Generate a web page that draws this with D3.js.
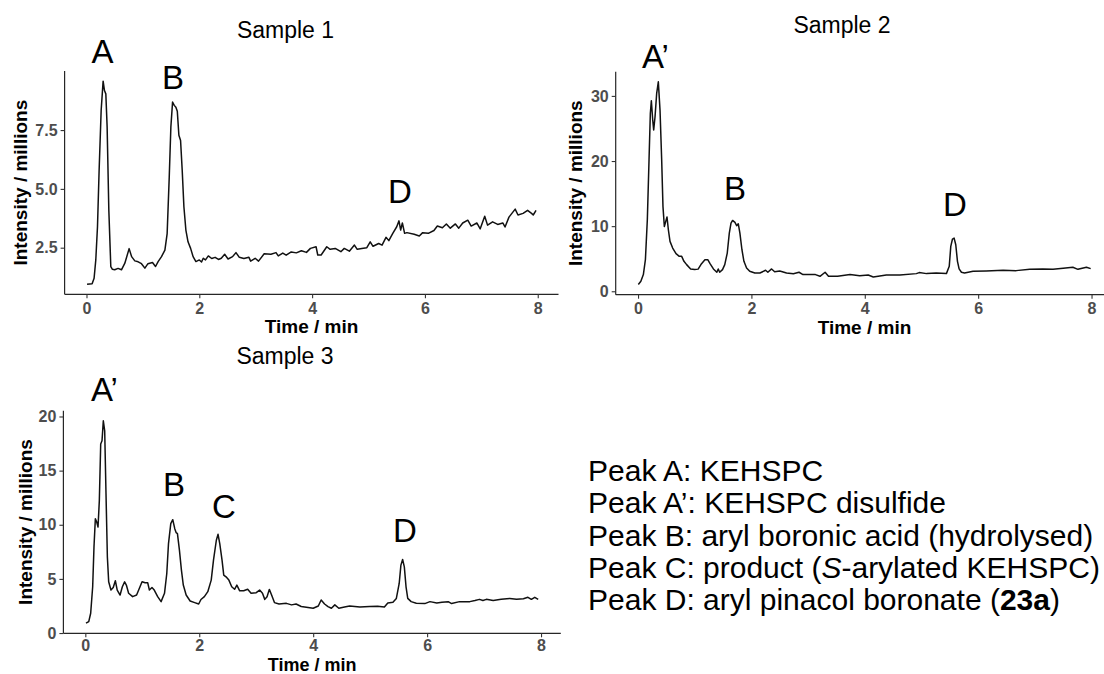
<!DOCTYPE html>
<html>
<head>
<meta charset="utf-8">
<script src="https://cdn.jsdelivr.net/npm/d3@7"></script>
<style>
  body { margin: 0; background: #fff; }
  text { font-family: "Liberation Sans", Arial, Helvetica, sans-serif; }
</style>
</head>
<body>
<svg id="chart" width="1104" height="674"></svg>
<script>
// ---- Chromatogram traces (retention time in min, intensity in millions) ----
const sample1Time = [0.01,0.10,0.135,0.165,0.195,0.224,0.26,0.295,0.319,0.343,0.366,0.396,0.431,0.46,0.5,0.56,0.62,0.68,0.756,0.8,0.857,0.916,0.975,1.035,1.09,1.17,1.224,1.27,1.33,1.39,1.43,1.467,1.496,1.526,1.556,1.585,1.61,1.638,1.668,1.697,1.727,1.762,1.8,1.846,1.89,1.94,2.0,2.04,2.07,2.11,2.16,2.22,2.28,2.34,2.39,2.45,2.51,2.59,2.65,2.71,2.79,2.88,2.91,2.99,3.05,3.15,3.27,3.36,3.40,3.48,3.54,3.63,3.72,3.81,3.9,3.97,4.07,4.1,4.16,4.26,4.32,4.41,4.51,4.57,4.66,4.75,4.8,4.88,4.97,5.03,5.08,5.18,5.24,5.31,5.36,5.43,5.5,5.54,5.57,5.6,5.64,5.68,5.81,5.9,5.96,6.06,6.16,6.22,6.31,6.38,6.45,6.54,6.6,6.67,6.76,6.82,6.92,6.98,7.06,7.11,7.2,7.29,7.38,7.42,7.49,7.6,7.65,7.74,7.82,7.89,7.92,7.97];
const sample1Intensity = [0.95,0.97,1.2,1.98,3.39,5.79,8.33,9.58,9.18,9.04,7.63,4.1,1.7,1.58,1.56,1.62,1.56,1.84,2.46,2.12,1.94,1.9,1.82,1.63,1.82,1.87,1.7,1.91,2.12,2.4,3.1,5.5,7.63,8.69,8.55,8.47,8.3,7.28,7.06,5.79,4.24,3.25,2.75,2.47,2.12,1.91,1.98,1.89,2.05,1.98,2.15,2.04,2.09,2.0,2.05,2.22,2.02,2.12,2.29,2.09,2.04,2.09,1.93,2.05,1.93,2.24,2.22,2.29,2.15,2.27,2.18,2.32,2.28,2.37,2.3,2.47,2.54,2.19,2.19,2.54,2.43,2.47,2.33,2.47,2.35,2.61,2.43,2.47,2.5,2.75,2.56,2.68,2.61,2.94,2.8,3.11,3.39,3.64,3.25,3.55,3.11,3.14,3.07,3.0,3.14,3.11,3.23,3.42,3.35,3.51,3.33,3.51,3.33,3.55,3.67,3.42,3.55,3.3,3.84,3.46,3.6,3.49,3.55,3.38,3.8,4.14,3.89,3.96,4.09,3.96,3.89,4.09];

const sample2Time = [0.005,0.05,0.094,0.13,0.164,0.194,0.217,0.235,0.259,0.276,0.3,0.329,0.358,0.388,0.417,0.44,0.464,0.488,0.511,0.535,0.564,0.611,0.67,0.728,0.77,0.81,0.857,0.928,1.0,1.06,1.12,1.18,1.23,1.27,1.33,1.39,1.415,1.44,1.49,1.53,1.574,1.61,1.64,1.668,1.71,1.74,1.768,1.797,1.833,1.868,1.915,1.97,2.06,2.15,2.25,2.29,2.356,2.41,2.5,2.62,2.74,2.84,2.91,3.13,3.21,3.3,3.36,3.52,3.74,3.91,4.06,4.15,4.38,4.62,4.91,4.96,5.09,5.26,5.44,5.49,5.517,5.547,5.576,5.605,5.635,5.664,5.705,5.76,5.91,6.14,6.44,6.67,6.91,7.14,7.32,7.5,7.67,7.76,7.91,7.985];
const sample2Intensity = [1.03,1.53,2.56,4.85,10.98,20.2,27.3,29.25,26.3,24.76,26.8,30.4,32.16,27.8,20.2,13.0,9.95,10.7,11.4,9.45,7.66,6.64,5.77,5.36,5.36,4.6,4.09,3.43,3.33,3.4,4.24,4.85,4.85,4.24,3.43,2.92,3.43,2.92,3.33,4.09,5.87,8.93,10.47,10.88,10.57,10.06,10.37,8.93,6.38,4.6,3.58,3.07,2.81,2.81,3.22,2.92,3.43,3.0,3.1,2.81,2.7,2.92,2.56,2.56,2.3,2.92,2.3,2.3,2.56,2.4,2.5,2.2,2.5,2.5,2.71,2.87,2.71,2.81,2.71,3.83,6.9,8.02,8.17,7.15,4.6,3.43,2.92,2.81,3.07,3.12,3.22,3.17,3.37,3.43,3.37,3.53,3.68,3.37,3.7,3.48];

const sample3Time = [0.012,0.06,0.094,0.129,0.152,0.176,0.2,0.223,0.246,0.27,0.293,0.316,0.34,0.363,0.387,0.41,0.45,0.49,0.527,0.56,0.61,0.65,0.69,0.72,0.76,0.83,0.9,0.96,0.996,1.05,1.095,1.125,1.17,1.21,1.27,1.33,1.39,1.43,1.46,1.5,1.535,1.57,1.595,1.617,1.652,1.687,1.72,1.77,1.84,1.92,1.99,2.03,2.09,2.15,2.21,2.25,2.3,2.33,2.36,2.4,2.43,2.47,2.52,2.57,2.62,2.66,2.71,2.78,2.85,2.91,3.0,3.06,3.11,3.15,3.19,3.23,3.27,3.32,3.4,3.53,3.62,3.7,3.79,3.88,4.0,4.09,4.14,4.2,4.26,4.32,4.38,4.45,4.55,4.64,4.82,4.99,5.13,5.25,5.31,5.4,5.46,5.51,5.54,5.57,5.6,5.63,5.66,5.72,5.81,5.96,6.05,6.17,6.26,6.37,6.43,6.57,6.75,6.84,6.92,6.98,7.04,7.16,7.3,7.45,7.57,7.69,7.77,7.83,7.89,7.95];
const sample3Intensity = [0.91,1.06,1.83,4.27,7.95,10.56,10.26,9.79,12.24,17.45,17.76,19.6,18.68,12.86,7.03,4.73,3.97,4.2,4.83,3.97,3.51,4.27,4.73,4.43,3.67,3.36,3.51,4.27,4.73,4.64,4.64,3.97,4.2,3.97,3.36,2.9,3.67,5.5,8.26,10.1,10.47,9.64,9.27,9.18,7.65,5.81,4.43,3.51,2.96,2.81,2.68,3.1,3.36,3.82,4.89,6.73,8.57,9.12,8.26,6.73,5.35,5.19,4.89,4.27,4.04,4.43,3.9,3.9,4.04,3.67,3.73,3.97,3.67,3.11,3.36,4.03,3.51,2.81,2.68,2.74,2.6,2.68,2.45,2.38,2.29,2.5,3.05,2.68,2.44,2.29,2.6,2.29,2.4,2.5,2.4,2.44,2.47,2.4,2.78,2.84,3.2,4.58,6.27,6.79,6.11,4.27,3.2,2.9,2.75,2.72,2.9,2.78,2.84,2.9,2.72,2.9,2.9,3.0,3.11,3.0,3.11,3.0,3.11,3.2,3.11,3.17,3.3,3.11,3.3,3.11];

// ---- Axis ticks ----
const timeTicks = [0, 2, 4, 6, 8];
const sample1Ticks = [2.5, 5.0, 7.5];
const sample2Ticks = [0, 10, 20, 30];
const sample3Ticks = [0, 5, 10, 15, 20];

// ---- Titles and peak annotations (time, intensity where the label sits) ----
const panelTitles = ["Sample 1", "Sample 2", "Sample 3"];
const sample1Peaks = [["A", 0.284, 10.35], ["B", 1.534, 9.25], ["D", 5.558, 4.40]];
const sample2Peaks = [["A\u2019", 0.07, 34.29], ["B", 1.71, 14.02], ["D", 5.592, 11.56]];
const sample3Peaks = [["A\u2019", 0.10, 21.43], ["B", 1.557, 12.66], ["C", 2.434, 10.62], ["D", 5.61, 8.40]];

// ---- Peak key ----
const peakKey = [
  [["Peak A: KEHSPC", ""]],
  [["Peak A\u2019: KEHSPC disulfide", ""]],
  [["Peak B: aryl boronic acid (hydrolysed)", ""]],
  [["Peak C: product (", ""], ["S", "italic"], ["-arylated KEHSPC)", ""]],
  [["Peak D: aryl pinacol boronate (", ""], ["23a", "bold"], [")", ""]]
];

const svg = d3.select("#chart");
svg.append("rect").attr("width", 1104).attr("height", 674).attr("fill", "#fff");

// Panel frames in pixels
const panels = [
  { time: sample1Time, value: sample1Intensity, ticks: sample1Ticks, fmt: d3.format(".1f"),
    peaks: sample1Peaks, title: panelTitles[0],
    left: 64.6, right: 558.5, top: 71, bottom: 294.3, titleX: 285.5, titleY: 37.7, yTitleX: 27,
    xTitleGap: 39, xTitleSize: 19, xPad: 4 },
  { time: sample2Time, value: sample2Intensity, ticks: sample2Ticks, fmt: d3.format("d"),
    peaks: sample2Peaks, title: panelTitles[1],
    left: 615.7, right: 1113.3, top: 71.7, bottom: 294.7, titleX: 842, titleY: 33, yTitleX: 582,
    xTitleGap: 39, xTitleSize: 19, xPad: 4 },
  { time: sample3Time, value: sample3Intensity, ticks: sample3Ticks, fmt: d3.format("d"),
    peaks: sample3Peaks, title: panelTitles[2],
    left: 63.4, right: 560.8, top: 410.7, bottom: 633.3, titleX: 285, titleY: 364, yTitleX: 32,
    xTitleGap: 37.3, xTitleSize: 18, xPad: 2.3 }
];

// Continuous-scale domain padded by 5% on each side
function padded(arr) {
  const [lo, hi] = d3.extent(arr);
  const p = (hi - lo) * 0.05;
  return [lo - p, hi + p];
}

const axisColor = "#262626";
const tickTextColor = "#4d4d4d";

panels.forEach(p => {
  const x = d3.scaleLinear().domain(padded(p.time)).range([p.left, p.right]);
  const y = d3.scaleLinear().domain(padded(p.value)).range([p.bottom, p.top]);
  const g = svg.append("g");

  // x axis
  const xa = g.append("g").attr("transform", `translate(0,${p.bottom})`)
    .call(d3.axisBottom(x).tickValues(timeTicks).tickSize(4).tickPadding(p.xPad).tickFormat(d3.format("d")));
  // y axis
  const ya = g.append("g").attr("transform", `translate(${p.left},0)`)
    .call(d3.axisLeft(y).tickValues(p.ticks).tickSize(4).tickPadding(3).tickFormat(p.fmt));

  [xa, ya].forEach(a => {
    a.select(".domain").attr("stroke", axisColor).attr("stroke-width", 1.2);
    a.selectAll(".tick line").attr("stroke", "#333").attr("stroke-width", 1.1);
    a.selectAll(".tick text").attr("fill", tickTextColor)
      .attr("font-size", 16).attr("font-weight", "bold")
      .attr("font-family", "'Liberation Sans', Arial, sans-serif");
  });
  // axis lines span the whole panel, without end caps
  xa.select(".domain").attr("d", `M${p.left},0H${p.right}`);
  ya.select(".domain").attr("d", `M0,${p.bottom}V${p.top}`);

  // trace
  const line = d3.line().x((d, i) => x(p.time[i])).y((d, i) => y(p.value[i]));
  g.append("path").datum(p.value).attr("d", line)
    .attr("fill", "none").attr("stroke", "#111").attr("stroke-width", 1.5)
    .attr("stroke-linejoin", "round");

  // axis titles
  g.append("text").attr("x", (p.left + p.right) / 2).attr("y", p.bottom + p.xTitleGap)
    .attr("text-anchor", "middle").attr("font-size", p.xTitleSize).attr("font-weight", "bold")
    .attr("fill", "#000").text("Time / min");
  g.append("text")
    .attr("transform", `translate(${p.yTitleX},${(p.top + p.bottom) / 2}) rotate(-90)`)
    .attr("text-anchor", "middle").attr("font-size", 19).attr("font-weight", "bold")
    .attr("fill", "#000").text("Intensity / millions");

  // panel title
  g.append("text").attr("x", p.titleX).attr("y", p.titleY)
    .attr("text-anchor", "middle").attr("font-size", 23).attr("fill", "#000").text(p.title);

  // peak letters
  p.peaks.forEach(([label, t, v]) => {
    const primed = label.length > 1;
    g.append("text").attr("x", x(t)).attr("y", y(v))
      .attr("text-anchor", primed ? "start" : "middle")
      .attr("font-size", 33).attr("fill", "#000").text(label);
  });
});

// Peak key text block
const key = svg.append("g");
peakKey.forEach((parts, i) => {
  const t = key.append("text").attr("x", 588).attr("y", 481 + i * 32.3)
    .attr("font-size", 30).attr("fill", "#000");
  parts.forEach(([s, style]) => {
    const ts = t.append("tspan").text(s);
    if (style === "italic") ts.attr("font-style", "italic");
    if (style === "bold") ts.attr("font-weight", "bold");
  });
});
</script>
</body>
</html>
